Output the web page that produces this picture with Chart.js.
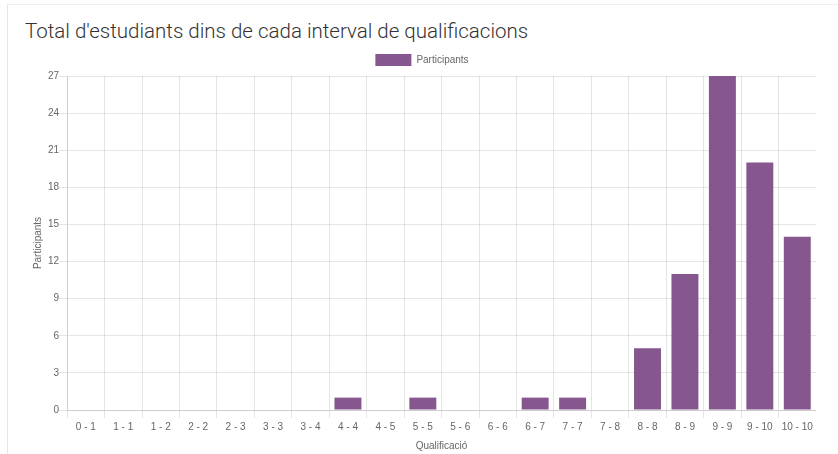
<!DOCTYPE html>
<html>
<head>
<meta charset="utf-8">
<script src="https://cdn.jsdelivr.net/npm/chart.js@4/dist/chart.umd.min.js"></script>
<style>
  body { margin:0; background:#fff; font-family:'Liberation Sans', Arial, sans-serif; }
  .card { position:absolute; left:7px; top:4px; width:840px; height:460px; border-left:1px solid #e6e6e6; border-top:1px solid #eeeeee; }
  .title { position:absolute; left:25px; top:19px; font-size:20.5px; color:#333; font-weight:300; font-family:Roboto, 'Liberation Sans', sans-serif; }
  .wrap { position:absolute; left:28px; top:47px; width:788px; height:405px; }
</style>
</head>
<body>
<div class="card"></div>
<div class="title">Total d'estudiants dins de cada interval de qualificacions</div>
<div class="wrap"><canvas id="grafic"></canvas></div>
<script>
const intervals = ['0 - 1','1 - 1','1 - 2','2 - 2','2 - 3','3 - 3','3 - 4','4 - 4','4 - 5','5 - 5','5 - 6','6 - 6','6 - 7','7 - 7','7 - 8','8 - 8','8 - 9','9 - 9','9 - 10','10 - 10'];
const participants = [0,0,0,0,0,0,0,1,0,1,0,0,1,1,0,5,11,27,20,14];
const yMax = 27;
const yStep = 3;

Chart.defaults.font.family = "'Liberation Sans', Arial, sans-serif";
Chart.defaults.color = '#666';

new Chart(document.getElementById('grafic'), {
  type: 'bar',
  data: {
    labels: intervals,
    datasets: [{ label:'Participants', data:participants, backgroundColor:'#86578F', borderWidth:0, barPercentage:0.9, categoryPercentage:0.8 }]
  },
  options: {
    responsive:true, maintainAspectRatio:false, animation:false,
    plugins:{
      legend:{ labels:{ boxWidth:36, boxHeight:12, padding:7, font:{size:10} } },
      tooltip:{ enabled:false }
    },
    scales:{
      x:{ title:{ display:true, text:'Qualificació', font:{size:10}, padding:{top:4,bottom:0} },
          grid:{ color:'rgba(0,0,0,0.1)' }, ticks:{ font:{size:10}, maxRotation:0, autoSkip:false } },
      y:{ min:0, max:yMax, title:{ display:true, text:'Participants', font:{size:10} },
          grid:{ color:'rgba(0,0,0,0.1)' }, ticks:{ stepSize:yStep, font:{size:10}, padding:0 } }
    }
  }
});
</script>
</body>
</html>
